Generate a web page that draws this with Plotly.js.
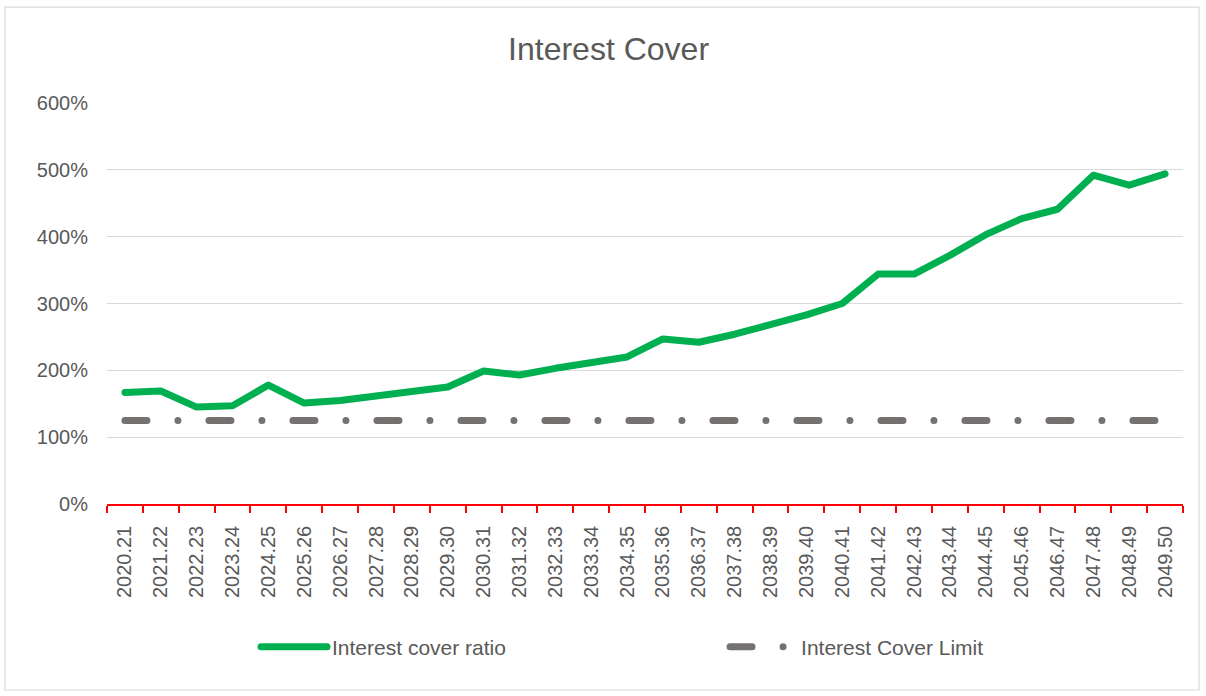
<!DOCTYPE html>
<html>
<head>
<meta charset="utf-8">
<script src="https://cdn.plot.ly/plotly-3.0.1.min.js"></script>
<style>
  html, body { margin: 0; padding: 0; background: #ffffff; }
  #chart { width: 1206px; height: 696px; }
  #chart .scatterlayer .js-line, #chart .legendlines .js-line { stroke-linecap: round; stroke-linejoin: round; }
</style>
</head>
<body>
<div id="chart"></div>
<script>
const years = ["2020.21","2021.22","2022.23","2023.24","2024.25","2025.26","2026.27","2027.28","2028.29","2029.30",
               "2030.31","2031.32","2032.33","2033.34","2034.35","2035.36","2036.37","2037.38","2038.39","2039.40",
               "2040.41","2041.42","2042.43","2043.44","2044.45","2045.46","2046.47","2047.48","2048.49","2049.50"];
const interestCoverRatio = [167,169,145,147,178,151,155,162,169,175,
                            199,193,203,212,220,247,242,254,268,283,
                            300,344,344,372,403,427,441,492,477,494];
const interestCoverLimit = [125,125,125,125,125,125,125,125,125,125,
                            125,125,125,125,125,125,125,125,125,125,
                            125,125,125,125,125,125,125,125,125,125];
const yTickVals = [0,100,200,300,400,500,600];
const yTickText = ["0%","100%","200%","300%","400%","500%","600%"];

const FONT = '"Liberation Sans", Arial, sans-serif';
const TXT = '#595959';

const traces = [
  {
    type: 'scatter', mode: 'lines', name: 'Interest cover ratio',
    x: years, y: interestCoverRatio,
    line: { color: '#00B050', width: 7 },
    legend: 'legend'
  },
  {
    type: 'scatter', mode: 'lines', name: 'Interest Cover Limit',
    x: years, y: interestCoverLimit,
    line: { color: '#767171', width: 7, dash: '22px,31px,0px,31px' },
    legend: 'legend2'
  }
];

const legendCommon = {
  orientation: 'h',
  font: { family: FONT, size: 21, color: TXT },
  itemwidth: 66,
  bgcolor: 'rgba(0,0,0,0)',
  borderwidth: 0,
  yanchor: 'middle',
  xanchor: 'left',
  y: -0.3566,
  itemclick: false, itemdoubleclick: false
};

const layout = {
  width: 1206, height: 696,
  margin: { l: 107, r: 23, t: 103, b: 192, pad: 0 },
  paper_bgcolor: '#ffffff', plot_bgcolor: '#ffffff',
  title: {
    text: 'Interest Cover',
    font: { family: FONT, size: 32, color: TXT },
    xref: 'container', yref: 'container',
    x: 0.5046, y: 0.9296, xanchor: 'center', yanchor: 'middle'
  },
  xaxis: {
    type: 'category',
    range: [-0.5, years.length - 0.5],
    showgrid: false, zeroline: false,
    showline: true, linecolor: '#FF0000', linewidth: 1.5,
    ticks: 'outside', ticklen: 7, tickwidth: 1.5, tickcolor: '#FF0000',
    tickson: 'boundaries',
    tickangle: -90,
    ticklabelstandoff: 12,
    tickfont: { family: FONT, size: 20, color: TXT },
    fixedrange: true
  },
  yaxis: {
    range: [0, 600],
    tickvals: yTickVals, ticktext: yTickText,
    showgrid: true, gridcolor: '#D9D9D9', gridwidth: 1,
    zeroline: false, showline: false,
    ticks: '',
    ticklabelstandoff: 18,
    tickfont: { family: FONT, size: 20, color: TXT },
    fixedrange: true
  },
  showlegend: true,
  legend: Object.assign({}, legendCommon, { x: 0.1385 }),
  legend2: Object.assign({}, legendCommon, { x: 0.5744 }),
  shapes: [
    {
      type: 'rect', xref: 'paper', yref: 'paper',
      x0: -0.0948, x1: 1.0149, y0: -0.4638, y1: 1.239,
      line: { color: '#D9D9D9', width: 1.2 }, fillcolor: 'rgba(0,0,0,0)',
      layer: 'below'
    }
  ]
};

Plotly.newPlot('chart', traces, layout, { displayModeBar: false, responsive: false });
</script>
</body>
</html>
